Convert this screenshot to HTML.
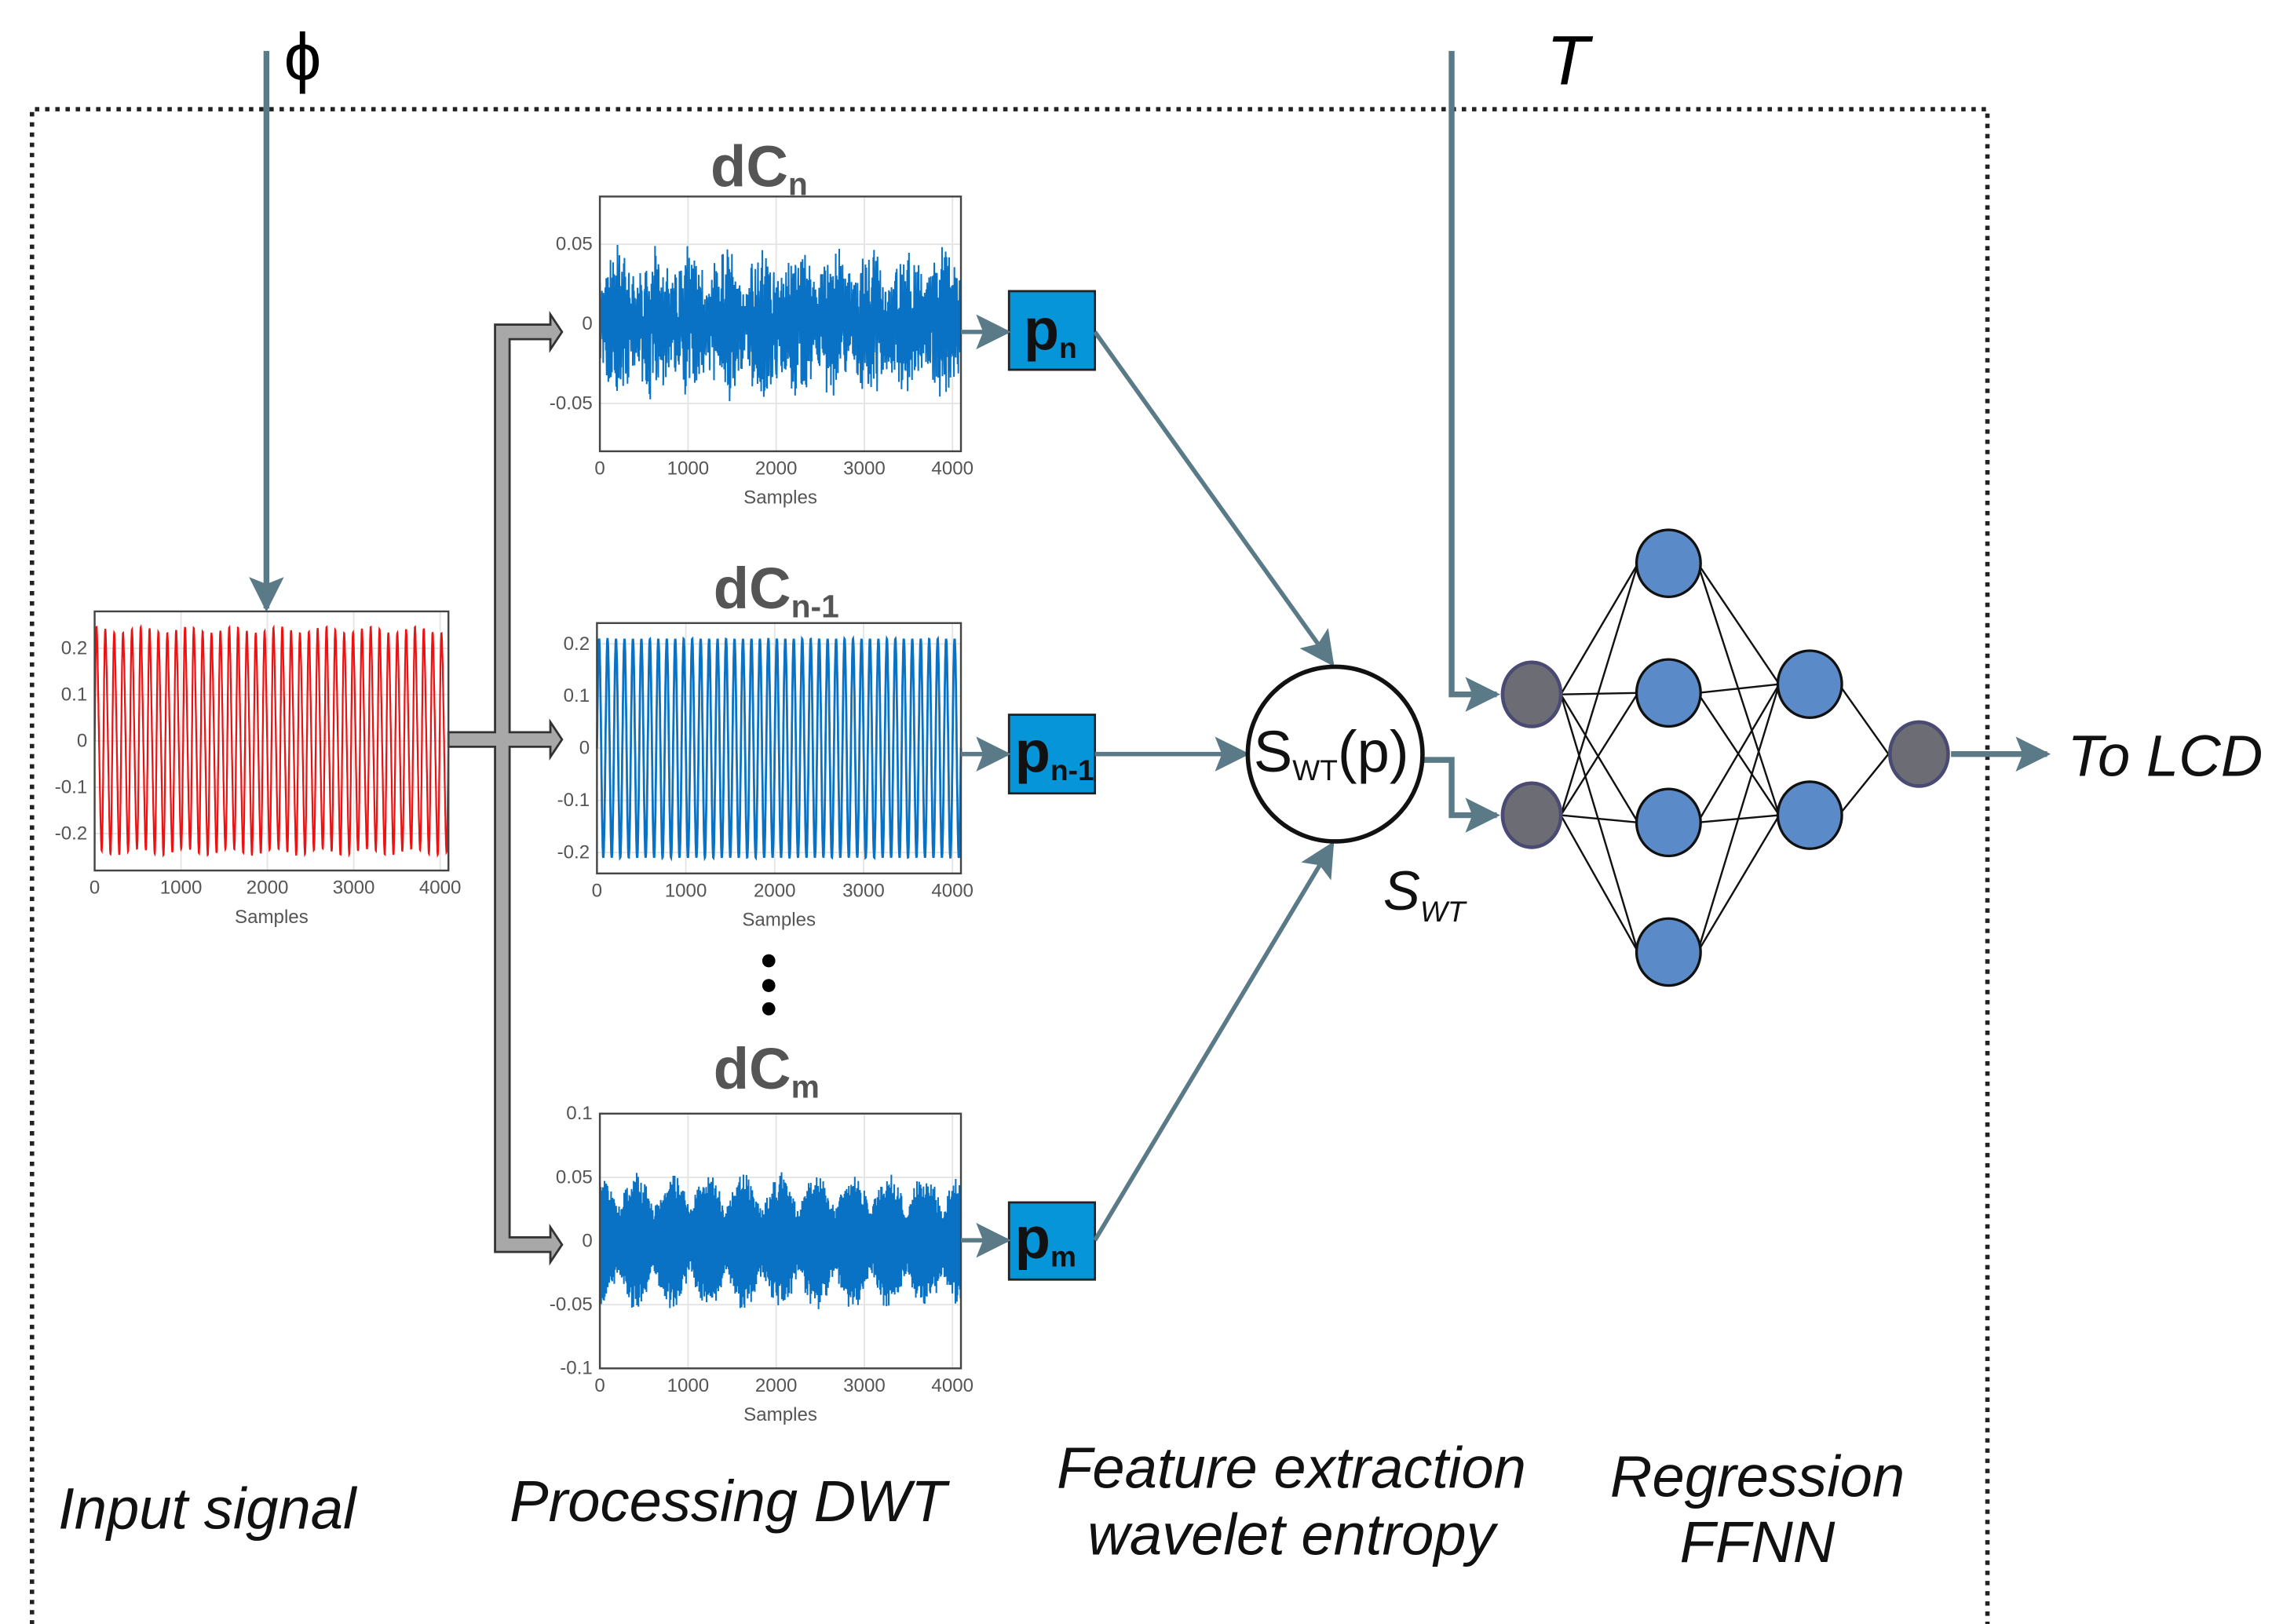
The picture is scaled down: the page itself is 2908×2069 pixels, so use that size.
<!DOCTYPE html>
<html><head><meta charset="utf-8"><style>
html,body{margin:0;padding:0;background:#fff}
svg{display:block}
text{font-family:"Liberation Sans",sans-serif}
.tk{font-size:13px;fill:#555}
</style></head><body>
<svg id="s" width="2908" height="2069" viewBox="0 0 1568 1115.6" preserveAspectRatio="none" xmlns="http://www.w3.org/2000/svg">
<defs>
<marker id="ab" viewBox="0 0 10 10" markerWidth="24" markerHeight="24" refX="9" refY="5" orient="auto" markerUnits="userSpaceOnUse"><path d="M0,0 L10,5 L0,10 L2,5 Z" fill="#5a7a88"/></marker>
</defs>
<path d="M22,1116 V75 H1365 V1116" fill="none" stroke="#222" stroke-width="3" stroke-dasharray="3,4"/>
<text x="195" y="55" font-family="Liberation Serif" font-size="46">ϕ</text>
<line x1="183" y1="35" x2="183" y2="418" stroke="#5a7a88" stroke-width="4" marker-end="url(#ab)"/>
<text x="1062" y="58" font-family="Liberation Serif" font-style="italic" font-size="48">T</text>
<path d="M997,35 V477 H1028" fill="none" stroke="#5a7a88" stroke-width="4" marker-end="url(#ab)"/>
<path d="M977,522 H997 V560 H1028" fill="none" stroke="#5a7a88" stroke-width="4" marker-end="url(#ab)"/>
<path d="M308,503 H340 V223 H378 V216 L386,228 L378,240 V233 H350 V503 H378 V496 L386,508 L378,520 V513 H350 V850 H378 V843 L386,855 L378,867 V860 H340 V513 H308 Z" fill="#a8a8a8" stroke="#333" stroke-width="1.5"/>
<g id="plots"></g>
<circle cx="528" cy="660" r="4.5"/><circle cx="528" cy="677" r="4.5"/><circle cx="528" cy="693" r="4.5"/>
<text x="488" y="128" font-size="40" font-weight="bold" fill="#555">dC<tspan font-size="22" dy="6">n</tspan></text>
<text x="490" y="418" font-size="40" font-weight="bold" fill="#555">dC<tspan font-size="22" dy="6">n-1</tspan></text>
<text x="490" y="748" font-size="40" font-weight="bold" fill="#555">dC<tspan font-size="22" dy="6">m</tspan></text>
<g stroke="#222" stroke-width="1.5" fill="#0595d8">
<rect x="693" y="200" width="59" height="54"/><rect x="693" y="491" width="59" height="54"/><rect x="693" y="826" width="59" height="53"/></g>
<text x="703" y="240" font-size="40" font-weight="bold" fill="#111">p<tspan font-size="20" dy="6">n</tspan></text>
<text x="697" y="530" font-size="40" font-weight="bold" fill="#111">p<tspan font-size="20" dy="6">n-1</tspan></text>
<text x="697" y="864" font-size="40" font-weight="bold" fill="#111">p<tspan font-size="20" dy="6">m</tspan></text>
<g stroke="#5a7a88" stroke-width="3" fill="none" marker-end="url(#ab)">
<line x1="660" y1="228" x2="692" y2="228"/><line x1="660" y1="518" x2="692" y2="518"/><line x1="660" y1="852" x2="692" y2="852"/>
<line x1="752" y1="228" x2="915" y2="456"/><line x1="752" y1="518" x2="856" y2="518"/><line x1="752" y1="852" x2="915" y2="580"/>
</g>
<circle cx="917" cy="518" r="60" fill="#fff" stroke="#111" stroke-width="3"/>
<text x="861" y="530" font-size="40" fill="#111">S<tspan font-size="20" dy="6">WT</tspan><tspan dy="-6">(p)</tspan></text>
<text x="950" y="625" font-size="38" font-style="italic" fill="#111">S<tspan font-size="20" dy="8">WT</tspan></text>
<g id="nn" stroke="#111" stroke-width="1.3"></g>
<line x1="1340" y1="518" x2="1406" y2="518" stroke="#5a7a88" stroke-width="4" marker-end="url(#ab)"/>
<text x="1420" y="533" font-size="40" font-style="italic" fill="#111">To LCD</text>
<g font-size="40" font-style="italic" fill="#111">
<text x="40" y="1050">Input signal</text>
<text x="350" y="1045">Processing DWT</text>
<text x="887" y="1022" text-anchor="middle">Feature extraction</text>
<text x="887" y="1068" text-anchor="middle">wavelet entropy</text>
<text x="1207" y="1028" text-anchor="middle">Regression</text>
<text x="1207" y="1073" text-anchor="middle">FFNN</text>
</g>
</svg>
<script>
var NS="http://www.w3.org/2000/svg",G=document.getElementById('plots');
function el(t,a,p){var e=document.createElementNS(NS,t);for(var k in a)e.setAttribute(k,a[k]);(p||G).appendChild(e);return e;}
function txt(x,y,s,anc){var e=el('text',{x:x,y:y,'class':'tk','text-anchor':anc||'middle'});e.textContent=s;}
var seed=7;function rnd(){seed=(seed*16807)%2147483647;return seed/2147483647;}
function plot(x0,y0,x1,y1,yt,ymin,ymax,col,f,n,lw){
 var W=x1-x0,H=y1-y0;
 for(var i=1;i<=4;i++){var gx=x0+W*i*1000/4096;el('line',{x1:gx,y1:y0,x2:gx,y2:y1,stroke:'#e4e4e4'});}
 yt.forEach(function(v){var gy=y1-(v-ymin)/(ymax-ymin)*H;el('line',{x1:x0,y1:gy,x2:x1,y2:gy,stroke:'#e4e4e4'});txt(x0-5,gy+4,String(v),'end');});
 var d='';for(var i=0;i<=n;i++){var t=i/n,v=f(t);var px=x0+t*W,py=y1-(v-ymin)/(ymax-ymin)*H;d+=(i?'L':'M')+px.toFixed(1)+','+py.toFixed(1);}
 el('path',{d:d,fill:'none',stroke:col,'stroke-width':lw});
 el('rect',{x:x0,y:y0,width:W,height:H,fill:'none',stroke:'#444','stroke-width':1.3});
 ['0','1000','2000','3000','4000'].forEach(function(s,i){txt(x0+W*i*1000/4096,y1+16,s);});
 txt((x0+x1)/2,y1+36,'Samples');
}
plot(65,420,308,598,[0.2,0.1,0,-0.1,-0.2],-0.28,0.28,'#ee1111',function(t){return 0.24*Math.sin(t*2*Math.PI*40)*(0.97+0.03*Math.sin(t*300))+0.03*Math.sin(t*2*Math.PI*80);},1600,1.2);
plot(412,135,660,310,[0.05,0,-0.05],-0.08,0.08,'#0a72c4',function(t){var e=0.55+0.45*Math.abs(Math.sin(t*Math.PI*10));return 0.05*e*(0.5*(rnd()*2-1)+0.5*Math.sin(t*2600));},1800,1.1);
plot(410,428,660,600,[0.2,0.1,0,-0.1,-0.2],-0.24,0.24,'#0a72c4',function(t){return 0.21*Math.sin(t*2*Math.PI*43);},1600,1.5);
plot(412,765,660,940,[0.1,0.05,0,-0.05,-0.1],-0.1,0.1,'#0a72c4',function(t){var e=0.45+0.55*Math.abs(Math.cos(t*Math.PI*10));return 0.055*e*(0.8*Math.sin(t*3100)+0.2*(rnd()*2-1));},2200,1.1);
var N=document.getElementById('nn');
var L0=[[1052,477],[1052,560]],L1=[[1146,387],[1146,476],[1146,565],[1146,654]],L2=[[1243,470],[1243,560]],L3=[[1318,518]];
function con(A,B){A.forEach(function(a){B.forEach(function(b){el('line',{x1:a[0]+20,y1:a[1],x2:b[0]-21,y2:b[1]},N);});});}
con(L0,L1);con(L1,L2);con(L2,L3);
L0.concat(L3).forEach(function(p){el('ellipse',{cx:p[0],cy:p[1],rx:20,ry:22,fill:'#6c6d74',stroke:'#4a4a72','stroke-width':2.5},N);});
L1.concat(L2).forEach(function(p){el('ellipse',{cx:p[0],cy:p[1],rx:22,ry:23,fill:'#5a8bc8',stroke:'#111','stroke-width':1.8},N);});
</script>
</body></html>
